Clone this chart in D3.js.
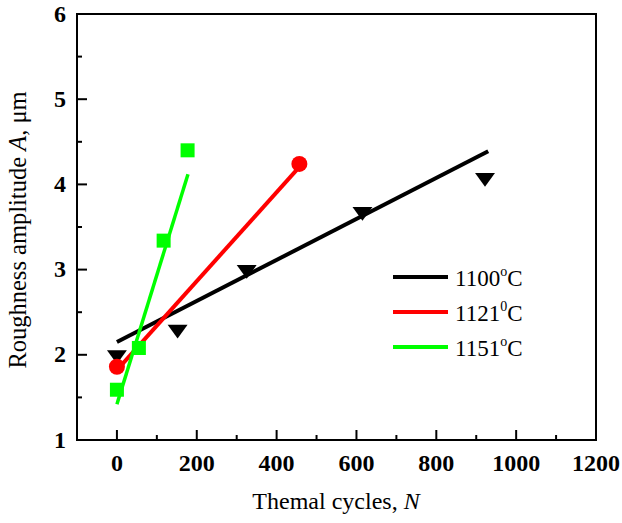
<!DOCTYPE html>
<html>
<head>
<meta charset="utf-8">
<script src="https://cdn.jsdelivr.net/npm/d3@7"></script>
<style>
  body { margin: 0; background: #fff; }
  text { font-family: "Liberation Serif", "Times New Roman", "DejaVu Serif", serif; }
</style>
</head>
<body>
<svg width="622" height="523"></svg>
<script>
// data
const cycles1100 = [0, 152, 325, 615, 922];
const amp1100 = [2.0, 2.30, 3.0, 3.68, 4.08];
const fit1100 = [[0, 2.15], [930, 4.39]];

const cycles1121 = [0, 457];
const amp1121 = [1.86, 4.24];
const fit1121 = [[0, 1.82], [452, 4.18]];

const cycles1151 = [0, 55, 117, 177];
const amp1151 = [1.59, 2.08, 3.34, 4.40];
const fit1151 = [[0, 1.42], [178, 4.12]];

const xTicks = [0, 200, 400, 600, 800, 1000, 1200];
const yTicks = [1, 2, 3, 4, 5, 6];
const legendNames = ["1100", "1121", "1151"];
const legendSup = ["o", "0", "o"];

const svg = d3.select("svg");
const plotLeft = 77, plotRight = 596, plotTop = 14, plotBottom = 440;

const x = d3.scaleLinear().domain([-100, 1200]).range([plotLeft, plotRight]);
const y = d3.scaleLinear().domain([1, 6]).range([plotBottom, plotTop]);

// frame
svg.append("rect")
    .attr("x", plotLeft).attr("y", plotTop)
    .attr("width", plotRight - plotLeft).attr("height", plotBottom - plotTop)
    .attr("fill", "none").attr("stroke", "#000").attr("stroke-width", 2);

// x axis ticks (inward)
const xMinor = d3.range(-100, 1200, 200);
svg.append("g").selectAll("line").data(xTicks.slice(0, -1))
    .enter().append("line")
    .attr("x1", d => x(d)).attr("x2", d => x(d))
    .attr("y1", plotBottom).attr("y2", plotBottom - 10)
    .attr("stroke", "#000").attr("stroke-width", 2);
svg.append("g").selectAll("line").data(xMinor.filter(d => d > -100))
    .enter().append("line")
    .attr("x1", d => x(d)).attr("x2", d => x(d))
    .attr("y1", plotBottom).attr("y2", plotBottom - 5)
    .attr("stroke", "#000").attr("stroke-width", 2);
svg.append("g").selectAll("text").data(xTicks)
    .enter().append("text")
    .attr("font-size", 24).attr("font-weight", "bold")
    .attr("x", d => x(d)).attr("y", plotBottom + 31)
    .attr("text-anchor", "middle")
    .text(d => d);

// y axis ticks (inward)
const yMinor = d3.range(1.5, 6, 1);
svg.append("g").selectAll("line").data(yTicks.slice(1, -1))
    .enter().append("line")
    .attr("x1", plotLeft).attr("x2", plotLeft + 10)
    .attr("y1", d => y(d)).attr("y2", d => y(d))
    .attr("stroke", "#000").attr("stroke-width", 2);
svg.append("g").selectAll("line").data(yMinor)
    .enter().append("line")
    .attr("x1", plotLeft).attr("x2", plotLeft + 5)
    .attr("y1", d => y(d)).attr("y2", d => y(d))
    .attr("stroke", "#000").attr("stroke-width", 2);
svg.append("g").selectAll("text").data(yTicks)
    .enter().append("text")
    .attr("font-size", 24).attr("font-weight", "bold")
    .attr("x", plotLeft - 11).attr("y", d => y(d) + 7.5)
    .attr("text-anchor", "end")
    .text(d => d);

// axis titles
const xt = svg.append("text")
    .attr("x", 336).attr("y", 509)
    .attr("text-anchor", "middle")
    .attr("font-size", 24);
xt.append("tspan").text("Themal cycles, ");
xt.append("tspan").attr("font-style", "italic").text("N");

const yt = svg.append("text")
    .attr("transform", "translate(26,230) rotate(-90)")
    .attr("text-anchor", "middle")
    .attr("font-size", 24.5);
yt.append("tspan").text("Roughness amplitude ");
yt.append("tspan").attr("font-style", "italic").text("A");
yt.append("tspan").text(", \u03bcm");

const line = d3.line().x(d => x(d[0])).y(d => y(d[1]));

// 1100
svg.append("path").attr("d", line(fit1100))
    .attr("stroke", "#000").attr("stroke-width", 4).attr("fill", "none");
const tri = d3.symbol().type(d3.symbolTriangle).size(110);
svg.append("g").selectAll("path").data(cycles1100)
    .enter().append("path")
    .attr("d", tri)
    .attr("transform", (d, i) => `translate(${x(d)},${y(amp1100[i])}) rotate(180) scale(1.25,1)`)
    .attr("fill", "#000");

// 1121
svg.append("path").attr("d", line(fit1121))
    .attr("stroke", "#ff0000").attr("stroke-width", 4).attr("fill", "none");
svg.append("g").selectAll("circle").data(cycles1121)
    .enter().append("circle")
    .attr("cx", d => x(d)).attr("cy", (d, i) => y(amp1121[i]))
    .attr("r", 8).attr("fill", "#ff0000");

// 1151
svg.append("path").attr("d", line(fit1151))
    .attr("stroke", "#00ff00").attr("stroke-width", 3.5).attr("fill", "none");
svg.append("g").selectAll("rect").data(cycles1151)
    .enter().append("rect")
    .attr("x", d => x(d) - 7).attr("y", (d, i) => y(amp1151[i]) - 7)
    .attr("width", 14).attr("height", 14).attr("fill", "#00ff00");

// legend
const colors = ["#000", "#ff0000", "#00ff00"];
const lg = svg.append("g").selectAll("g").data(legendNames)
    .enter().append("g")
    .attr("transform", (d, i) => `translate(393,${277 + i * 35})`);
lg.append("line").attr("x1", 0).attr("x2", 55)
    .attr("stroke", (d, i) => colors[i]).attr("stroke-width", 4);
const lt = lg.append("text").attr("x", 62).attr("y", 9).attr("font-size", 23);
lt.append("tspan").text(d => d);
lt.append("tspan").attr("font-size", 14).attr("dy", -10).text((d, i) => legendSup[i]);
lt.append("tspan").attr("dy", 10).text("C");
</script>
</body>
</html>
